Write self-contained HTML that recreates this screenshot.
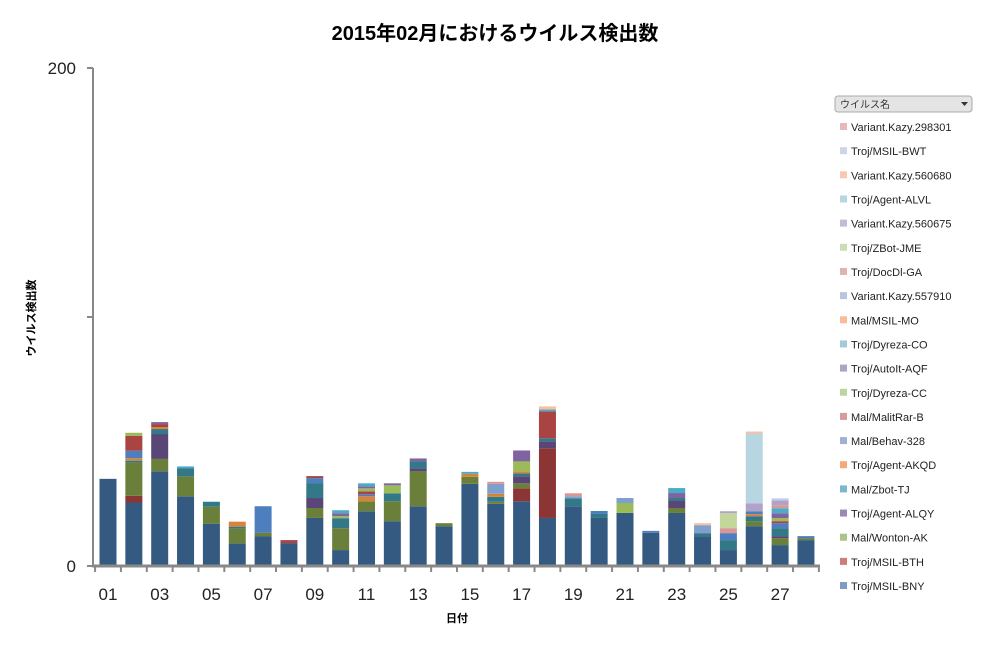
<!DOCTYPE html>
<html><head><meta charset="utf-8"><style>
body{margin:0;background:#fff;}
svg text{font-family:"Liberation Sans","Noto Sans CJK JP",sans-serif;}
</style></head><body>
<svg id="chart" width="987" height="648" viewBox="0 0 987 648" xmlns="http://www.w3.org/2000/svg">
<text x="495" y="40" text-anchor="middle" font-size="20" font-weight="bold" fill="#000">2015年02月におけるウイルス検出数</text>
<text transform="translate(35,318) rotate(-90)" text-anchor="middle" font-size="11" font-weight="bold">ウイルス検出数</text>
<text x="457" y="622" text-anchor="middle" font-size="11" font-weight="bold">日付</text>
<g id="bars"></g>
<g id="axes"></g>
<g id="legend">
<rect x="835" y="96" width="137" height="16" rx="3" fill="#e4e4e4" stroke="#aaa"/>
<text x="840" y="108" font-size="10" fill="#333">ウイルス名</text>
<path d="M961 102 L968 102 L964.5 106 Z" fill="#333"/>
</g>
</svg>
<script>
const days=["01","02","03","04","05","06","07","08","09","10","11","12","13","14","15","16","17","18","19","20","21","22","23","24","25","26","27","28"];
const yTicks=[0,200];
function sp(o){const a=new Array(28).fill(0);for(const k in o)a[k-1]=o[k];return a;}
const baseVals=[35,25.5,38,28,17,9,12,9.2,19.3,6.4,22,18,24,16,33,25,26,19.3,24,19.3,21.3,13.3,21.3,12,6.4,16,8.4,10.4];
const bthVals=sp({2:2.7,17:5.2,18:28});
const wontonVals=sp({2:13.4,3:5,4:8,5:6.8,6:6,7:1.3,9:4,10:8.8,11:4,12:8,13:14,14:1.2,15:2.8,16:0.8,17:2,23:2,26:2,27:2.8,28:0.8});
const alqyVals=sp({3:10,9:4,13:1.2,17:2.8,18:2.8,23:2.8,27:0.8});
const zbotTjVals=sp({2:0.7,3:2,4:3.3,5:2,6:0.8,9:6,10:4,12:3.2,13:2.8,16:2,17:1.2,18:1.2,19:3.2,20:1.6,23:1.2,24:1.2,25:4,26:2,27:3.2});
const akqdVals=sp({2:1,3:0.8,6:2,11:2,15:1.2,16:1.2,17:0.8,26:0.8});
const bnyVals=sp({2:3,7:10.7,9:2,11:0.8,20:1.2,22:0.8,25:2.8,26:1.2,27:2,28:0.8});
const malitVals=sp({2:6,3:1.2,8:1.2,9:0.8,11:1.2,18:10.8,27:0.8});
const dyrezaCcVals=sp({2:1.2,10:0.8,11:1.2,12:3.2,17:4,21:4,27:1.2});
const autoitVals=sp({3:0.8,10:1.2,11:0.8,12:0.8,13:1.2,17:4.4,23:2,27:2});
const dyrezaCoVals=sp({4:0.7,10:1.2,11:1.2,15:0.8,18:0.8,23:2,27:2});
const behavVals=sp({16:4,19:0.8,21:2,24:3.2});
const docdlVals=sp({16:0.8,19:1.2,25:2,27:1.2});
const zbotJmeVals=sp({25:6});
const kazy675Vals=sp({25:0.8,26:3.2,27:2});
const alvlVals=sp({26:28});
const kazy680Vals=sp({18:1.2,24:0.8,26:0.8});
const bwtVals=sp({27:0.8});
const series=[
["base",baseVals,"#355a82"],["Troj/MSIL-BTH",bthVals,"#8b3535"],["Mal/Wonton-AK",wontonVals,"#6a803a"],
["Troj/Agent-ALQY",alqyVals,"#5a4676"],["Mal/Zbot-TJ",zbotTjVals,"#327886"],["Troj/Agent-AKQD",akqdVals,"#d8823a"],
["Troj/MSIL-BNY",bnyVals,"#4d7fbf"],["Mal/MalitRar-B",malitVals,"#a94442"],["Troj/Dyreza-CC",dyrezaCcVals,"#9bbb59"],
["Troj/AutoIt-AQF",autoitVals,"#8064a2"],["Troj/Dyreza-CO",dyrezaCoVals,"#4aacc6"],["Mal/Behav-328",behavVals,"#7f9fcf"],
["Troj/DocDl-GA",docdlVals,"#d99694"],["Troj/ZBot-JME",zbotJmeVals,"#c3d69b"],["Variant.Kazy.560675",kazy675Vals,"#b2a2c7"],
["Troj/Agent-ALVL",alvlVals,"#b7d6e2"],["Variant.Kazy.560680",kazy680Vals,"#f9c09f"],["Troj/MSIL-BWT",bwtVals,"#c5d0e6"]];
const legendNames=["Variant.Kazy.298301","Troj/MSIL-BWT","Variant.Kazy.560680","Troj/Agent-ALVL","Variant.Kazy.560675","Troj/ZBot-JME","Troj/DocDl-GA","Variant.Kazy.557910","Mal/MSIL-MO","Troj/Dyreza-CO","Troj/AutoIt-AQF","Troj/Dyreza-CC","Mal/MalitRar-B","Mal/Behav-328","Troj/Agent-AKQD","Mal/Zbot-TJ","Troj/Agent-ALQY","Mal/Wonton-AK","Troj/MSIL-BTH","Troj/MSIL-BNY"];
const legendColors=["#e6b9b8","#cdd5e6","#f9c8b0","#b7d6e2","#c6bad6","#cddcb5","#e0b3b2","#b8c5df","#f9bb98","#a3cad8","#b0a3c8","#bcd59f","#d69b9a","#9fb2d6","#f8a878","#7ab9cc","#9c88b8","#aac586","#cf7d7c","#7f9bc9"];
const NS="http://www.w3.org/2000/svg";
const x0=108,dx=25.85,y0=566,yTop=68,bw=17;
function xs(i){return x0+i*dx;}
function ys(v){return y0-(v/200)*(y0-yTop);}
const bars=document.getElementById('bars');
days.forEach((d,i)=>{let acc=0;series.forEach(s=>{const v=s[1][i];if(!v)return;
const r=document.createElementNS(NS,'rect');


r.setAttribute('x',xs(i)-bw/2);r.setAttribute('y',ys(acc+v));r.setAttribute('width',bw);r.setAttribute('height',ys(acc)-ys(acc+v));r.setAttribute('fill',s[2]);
bars.appendChild(r);acc+=v;});});
const ax=document.getElementById('axes');
function add(tag,attrs,txt){const e=document.createElementNS(NS,tag);for(const k in attrs)e.setAttribute(k,attrs[k]);if(txt!==undefined)e.textContent=txt;ax.appendChild(e);return e;}
let e=add('line',{x1:93,y1:yTop,x2:93,y2:y0+1,stroke:'#888','stroke-width':2});
e=add('line',{x1:92,y1:y0,x2:820,y2:y0,stroke:'#888','stroke-width':3});
[0,100,200].forEach(v=>{const t=add('line',{x1:87,y1:ys(v),x2:93,y2:ys(v),stroke:'#888','stroke-width':2});});
yTicks.forEach(v=>{const t=add('text',{x:76,y:ys(v)+6,'text-anchor':'end','font-size':17,fill:'#222'},String(v));});
for(let i=0;i<=28;i++){const t=add('line',{x1:xs(i)-dx/2,y1:y0,x2:xs(i)-dx/2,y2:y0+6,stroke:'#888','stroke-width':2});}
days.forEach((d,i)=>{if(i%2)return;const t=add('text',{x:xs(i),y:600,'text-anchor':'middle','font-size':17,fill:'#222'},d);});
const lg=document.getElementById('legend');
legendNames.forEach((n,i)=>{const y=127+i*24.16;
const g=document.createElementNS(NS,'g');


const r=document.createElementNS(NS,'rect');r.setAttribute('x',840);r.setAttribute('y',y-4);r.setAttribute('width',7);r.setAttribute('height',7);r.setAttribute('fill',legendColors[i]);
const t=document.createElementNS(NS,'text');t.setAttribute('x',851);t.setAttribute('y',y+4);t.setAttribute('font-size',11);t.setAttribute('fill','#222');t.textContent=n;
g.appendChild(r);g.appendChild(t);lg.appendChild(g);});
</script>
</body></html>
